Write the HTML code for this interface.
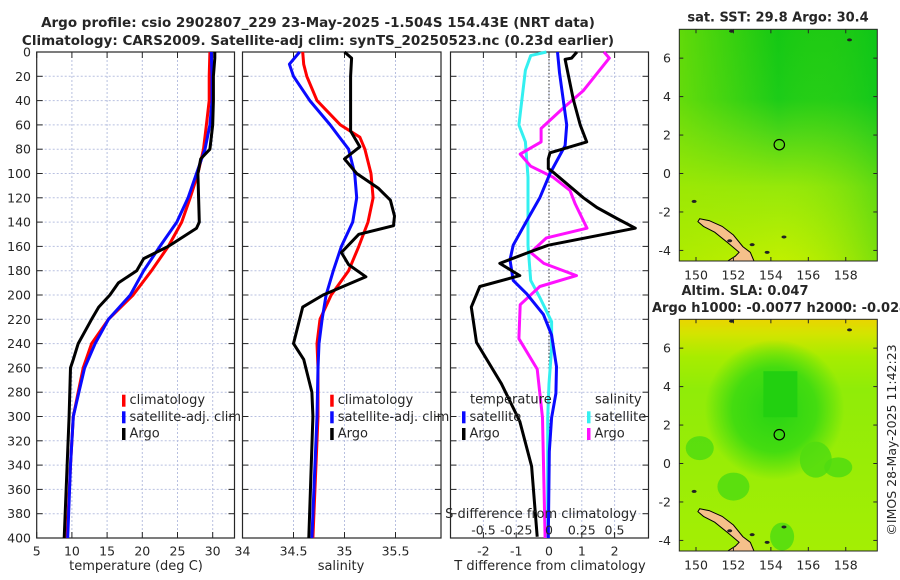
<!DOCTYPE html>
<html><head><meta charset="utf-8"><style>
html,body{margin:0;padding:0;background:#fff;}
svg{display:block;font-family:"DejaVu Sans","Liberation Sans",sans-serif;}
</style></head><body>
<svg id="fig" width="900" height="580" viewBox="0 0 900 580" xmlns="http://www.w3.org/2000/svg">
<defs>
<linearGradient id="sstg" x1="0" y1="0" x2="0" y2="1">
<stop offset="0" stop-color="#14c814"/><stop offset="0.3" stop-color="#1ccc18"/><stop offset="0.45" stop-color="#4cd618"/><stop offset="0.68" stop-color="#96e80a"/><stop offset="1" stop-color="#c0f000"/>
</linearGradient>
<linearGradient id="sstx" x1="0" y1="0" x2="1" y2="0">
<stop offset="0" stop-color="#a0e800" stop-opacity="0.55"/><stop offset="0.5" stop-color="#a0e800" stop-opacity="0"/><stop offset="1" stop-color="#00c020" stop-opacity="0.35"/>
</linearGradient>
<linearGradient id="slag" x1="0" y1="0" x2="0" y2="1">
<stop offset="0" stop-color="#ead400"/><stop offset="0.06" stop-color="#d4e400"/><stop offset="0.16" stop-color="#a8ec00"/><stop offset="0.3" stop-color="#90ec08"/><stop offset="1" stop-color="#a4ee04"/>
</linearGradient>
<radialGradient id="slab" cx="0.5" cy="0.5" r="0.5">
<stop offset="0" stop-color="#28d414"/><stop offset="0.6" stop-color="#44dc10"/><stop offset="1" stop-color="#44dc10" stop-opacity="0"/>
</radialGradient>
</defs>
<g id="root"></g>
</svg>
<script>
// ---------- data ----------
const yTicks = [0,20,40,60,80,100,120,140,160,180,200,220,240,260,280,300,320,340,360,380,400];
const tTicks = [5,10,15,20,25,30];
const sTicks = [34,34.5,35,35.5];
const dTicks = [-2,-1,0,1,2];
const sdTicks = [-0.5,-0.25,0,0.25,0.5];
const sdTickLabels = ["-0.5","-0.25","0","0.25","0.5"];

const depthsClim = [0,20,40,60,80,100,120,140,160,180,200,220,240,260,280,300,340,400];
const tempClim = [29.6,29.5,29.5,29.1,28.7,27.9,26.8,25.6,23.7,21.3,18.7,15.2,12.8,11.6,10.9,10.2,9.8,9.3];
const tempSat  = [29.8,29.9,29.9,29.6,28.9,27.7,26.5,24.9,22.5,20.2,18.3,15.2,13.3,11.8,11.0,10.2,9.8,9.4];
const depthsTArgo = [0,5,20,40,60,80,88,100,120,140,145,160,170,180,190,200,210,220,240,253,260,300,400];
const tempArgo = [30.3,30.3,30.1,30.1,30.0,29.6,28.3,27.9,28.0,28.1,27.7,23.7,20.2,19.2,16.6,15.4,13.8,12.8,10.9,10.2,9.8,9.6,8.9];

const depthsSal = [0,10,20,40,60,70,80,100,120,140,160,180,200,220,240,260,300,400];
const salClim = [34.59,34.60,34.63,34.73,34.96,35.15,35.2,35.26,35.28,35.23,35.14,35.04,34.87,34.76,34.73,34.74,34.74,34.69];
const salSat  = [34.56,34.46,34.50,34.66,34.86,34.95,35.04,35.10,35.12,35.08,34.97,34.89,34.82,34.78,34.75,34.74,34.73,34.68];
const depthsSArgo = [0,5,20,40,60,65,78,88,100,112,122,135,143,150,165,175,185,200,210,240,253,280,300,400];
const salArgo = [35.0,35.07,35.06,35.06,35.06,35.06,35.15,35.0,35.12,35.33,35.45,35.49,35.48,35.14,34.97,35.04,35.21,34.79,34.59,34.50,34.6,34.68,34.69,34.65];

const depthsDT = [0,5,6,39,60,74,83,88,96,99,120,128,137,145,159,165,174,184,193,210,239,273,304,341,399];
const dTArgo = [0.85,0.69,0.49,0.74,0.95,1.15,0.03,-0.02,-0.02,0.13,1.05,1.46,2.07,2.63,-0.02,-0.63,-1.5,-0.89,-2.11,-2.37,-2.21,-1.45,-0.89,-0.53,-0.36];
const depthsDTs = [0,17,60,77,100,120,139,159,171,188,199,216,233,259,281,301,329,400];
const dTSat = [0.26,0.32,0.54,0.49,0.03,-0.28,-0.68,-1.09,-1.19,-1.09,-0.68,-0.17,0.08,0.23,0.21,0.08,0.01,-0.02];
const depthsDSs = [0,3,15,60,74,103,131,159,188,202,222,244,273,301,400];
const dSSat = [-0.02,-0.14,-0.18,-0.23,-0.18,-0.16,-0.16,-0.16,-0.14,-0.07,0.02,0.02,0.0,-0.01,-0.01];
const depthsDSa = [0,5,32,46,63,74,84,94,103,114,125,145,153,165,174,184,193,208,236,261,301,400];
const dSArgo = [0.42,0.46,0.26,0.11,-0.06,-0.06,-0.22,-0.14,0.03,0.16,0.20,0.29,-0.02,-0.14,-0.04,0.21,-0.07,-0.22,-0.23,-0.09,-0.05,-0.03];

const lonTicks = [150,152,154,156,158];
const latTicks = [6,4,2,0,-2,-4];
const argoLon = 154.45, argoLat = 1.5;

// ---------- helpers ----------
const NS = "http://www.w3.org/2000/svg";
const root = document.getElementById('root');
function mk(tag, attrs, parent){ const e=document.createElementNS(NS,tag); for(const k in attrs) e.setAttribute(k,attrs[k]); (parent||root).appendChild(e); return e; }
function txt(x,y,s,size,anchor,weight,parent){ const t=mk('text',{x:x,y:y,'font-size':size,'text-anchor':anchor||'middle','fill':'#262626','dominant-baseline':'central'},parent); if(weight) t.setAttribute('font-weight',weight); t.textContent=s; return t; }

const Y0=52, Y1=538;
const yD = d => Y0 + d*(Y1-Y0)/400;
const P1={x0:36.7,x1:234.5}, xT = v => 36.7 + (v-5)*7.04;
const P2={x0:242.5,x1:441}, xS = v => 242.5 + (v-34)*102;
const P3={x0:450.5,x1:648.5}, xDT = v => 549 + v*32.8, xDS = v => 549 + v*131;

function panel(P, name, xt, xf, labels){
  const g = mk('g',{});
  
  
  yTicks.forEach(d=>{ const l=mk('line',{x1:P.x0,x2:P.x1,y1:yD(d),y2:yD(d),stroke:'#b8c0e0','stroke-width':1,'stroke-dasharray':'2,2'},g);
     
    mk('line',{x1:P.x0,x2:P.x0+6,y1:yD(d),y2:yD(d),stroke:'#262626'},g);
    mk('line',{x1:P.x1-6,x2:P.x1,y1:yD(d),y2:yD(d),stroke:'#262626'},g);
  });
  xt.forEach((v,i)=>{ const x=xf(v); if(x>P.x0+1 && x<P.x1-1){
    const l=mk('line',{x1:x,x2:x,y1:Y0,y2:Y1,stroke:'#b8c0e0','stroke-width':1,'stroke-dasharray':'2,2'},g);
     }
    mk('line',{x1:x,x2:x,y1:Y1-6,y2:Y1,stroke:'#262626'},g);
    mk('line',{x1:x,x2:x,y1:Y0,y2:Y0+6,stroke:'#262626'},g);
    if(labels){ const t=txt(x,551,labels[i],12.5,'middle',null,g);   }
  });
  const b=mk('rect',{x:P.x0,y:Y0,width:P.x1-P.x0,height:Y1-Y0,fill:'none',stroke:'#262626','stroke-width':1.2},g);
   
  return g;
}
function line(g, depths, vals, xf, color, name){
  const pts = depths.map((d,i)=> xf(vals[i]).toFixed(1)+','+yD(d).toFixed(1)).join(' ');
  const p = mk('polyline',{points:pts,fill:'none',stroke:color,'stroke-width':3,'stroke-linejoin':'round'},g);
  
  
  return p;
}
function legendItem(g, x, y, color, label, name){
  const r=mk('rect',{x:x-1.5,y:y-6,width:3.5,height:12,fill:color},g);
  
  
  const t=txt(x+6,y,label,13,'start',null,g);
  
  
}

// ---------- title ----------
const t1 = txt(318,23,'Argo profile: csio 2902807_229 23-May-2025 -1.504S 154.43E (NRT data)',13.5,'middle','bold');


const t2 = txt(318,41,'Climatology: CARS2009. Satellite-adj clim: synTS_20250523.nc (0.23d earlier)',13.5,'middle','bold');



// ---------- panel 1 ----------
const g1 = panel(P1,'temperature-panel',tTicks,xT,tTicks.map(String));
yTicks.forEach(d=>{ const t=txt(31,yD(d),String(d),12.5,'end',null,g1);   });
line(g1,depthsClim,tempClim,xT,'#ff0000','temp-climatology-line');
line(g1,depthsClim,tempSat,xT,'#0a0aff','temp-satellite-line');
line(g1,depthsTArgo,tempArgo,xT,'#000000','temp-argo-line');
legendItem(g1,123.5,400.7,'#ff0000','climatology','legend-climatology');
legendItem(g1,123.5,417.3,'#0a0aff','satellite-adj. clim','legend-satellite-adj');
legendItem(g1,123.5,434,'#000000','Argo','legend-argo');
const xl1=txt(136,566.5,'temperature (deg C)',13,'middle',null,g1);  

// ---------- panel 2 ----------
const g2 = panel(P2,'salinity-panel',sTicks,xS,sTicks.map(String));
line(g2,depthsSal,salClim,xS,'#ff0000','sal-climatology-line');
line(g2,depthsSal,salSat,xS,'#0a0aff','sal-satellite-line');
line(g2,depthsSArgo,salArgo,xS,'#000000','sal-argo-line');
legendItem(g2,331.7,400.7,'#ff0000','climatology','legend-climatology-sal');
legendItem(g2,331.7,417.3,'#0a0aff','satellite-adj. clim','legend-satellite-adj-sal');
legendItem(g2,331.7,434,'#000000','Argo','legend-argo-sal');
const xl2=txt(341,566.5,'salinity',13,'middle',null,g2);  

// ---------- panel 3 ----------
const g3 = panel(P3,'difference-panel',dTicks,xDT,dTicks.map(String));
const zl=mk('line',{x1:xDT(0),x2:xDT(0),y1:Y0,y2:Y1,stroke:'#333','stroke-width':1,'stroke-dasharray':'1.5,2'},g3);
 
line(g3,depthsDSs,dSSat,xDS,'#33f0f0','sal-diff-satellite-line');
line(g3,depthsDSa,dSArgo,xDS,'#ff10ff','sal-diff-argo-line');
line(g3,depthsDTs,dTSat,xDT,'#0a0aff','temp-diff-satellite-line');
line(g3,depthsDT,dTArgo,xDT,'#000000','temp-diff-argo-line');
const lh1=txt(470,400,'temperature',13,'start',null,g3);  
const lh2=txt(595,400,'salinity',13,'start',null,g3);  
legendItem(g3,463.5,417.3,'#0a0aff','satellite','legend-temp-satellite');
legendItem(g3,463.5,434,'#000000','Argo','legend-temp-argo');
legendItem(g3,588.5,417.3,'#33f0f0','satellite','legend-sal-satellite');
legendItem(g3,588.5,434,'#ff10ff','Argo','legend-sal-argo');
const sdt=txt(541,514.5,'S difference from climatology',13,'middle',null,g3);  
sdTicks.forEach((v,i)=>{ const t=txt(xDS(v),530,sdTickLabels[i],12.5,'middle',null,g3);   });
const xl3=txt(550,566.5,'T difference from climatology',13,'middle',null,g3);  

// ---------- maps ----------
function mapPanel(name, top, bottom, fill, extra){
  const M={x0:679.3,x1:877.3,y0:top,y1:bottom};
  const lon = v => 696 + (v-150)*18.72;
  const latToY = v => (top+ (bottom-top)*(7.5-v)/12.05);
  const g=mk('g',{});
  
  
  const bg=mk('rect',{x:M.x0,y:M.y0,width:M.x1-M.x0,height:M.y1-M.y0,fill:fill},g);
   
  extra(g,lon,latToY,M);
  const land = [[150.2,-2.35],[150.7,-2.45],[151.4,-2.75],[152.0,-3.2],[152.5,-3.8],[152.9,-4.1],[153.1,-4.55],[151.7,-4.55],[152.1,-4.3],[152.3,-4.1],[151.7,-3.6],[151.0,-3.05],[150.4,-2.75],[150.1,-2.5]];
  const lp=mk('polygon',{points:land.map(p=>lon(p[0]).toFixed(1)+','+latToY(p[1]).toFixed(1)).join(' '),fill:'#f5c08a',stroke:'#000','stroke-width':1},g);
   
  [[149.9,-1.45],[151.8,-3.5],[153.0,-3.7],[154.7,-3.3],[153.8,-4.1],[158.2,6.95],[151.9,7.4]].forEach(p=>{
    const c=mk('ellipse',{cx:lon(p[0]),cy:latToY(p[1]),rx:2.5,ry:1.5,fill:'#222'},g);
     
  });
  const dot=mk('circle',{cx:lon(argoLon),cy:latToY(argoLat),r:5.2,fill:'none',stroke:'#000','stroke-width':1.2},g);
   
  latTicks.forEach(v=>{ const y=latToY(v);
    mk('line',{x1:M.x1-4,x2:M.x1,y1:y,y2:y,stroke:'#262626'},g);
    mk('line',{x1:M.x0,x2:M.x0+4,y1:y,y2:y,stroke:'#262626'},g);
    const t=txt(671,y,String(v),12.5,'end',null,g);   });
  lonTicks.forEach(v=>{ const x=lon(v);
    mk('line',{x1:x,x2:x,y1:M.y1-4,y2:M.y1,stroke:'#262626'},g);
    mk('line',{x1:x,x2:x,y1:M.y0,y2:M.y0+4,stroke:'#262626'},g);
    const t=txt(x,bottom+14,String(v),12.5,'middle',null,g);   });
  const b=mk('rect',{x:M.x0,y:M.y0,width:M.x1-M.x0,height:M.y1-M.y0,fill:'none',stroke:'#262626','stroke-width':1},g);
   
  return g;
}
const m1 = mapPanel('sst-map',29.3,261,'url(#sstg)',(g,lon,lat,M)=>{
  const r=mk('rect',{x:M.x0,y:M.y0,width:M.x1-M.x0,height:M.y1-M.y0,fill:'url(#sstx)'},g);
   
});
const mt1=txt(778,18,'sat. SST: 29.8 Argo: 30.4',13,'middle','bold');
 
const m2 = mapPanel('sla-map',319.3,551,'url(#slag)',(g,lon,lat,M)=>{
  const e=mk('ellipse',{cx:lon(154.2),cy:lat(2.8),rx:70,ry:70,fill:'url(#slab)'},g);
   
  const e2=mk('rect',{x:lon(153.6),y:lat(4.8),width:34,height:46,fill:'#22d010'},g);
   
  [[150.2,0.8,14,12],[156.4,0.2,16,18],[157.6,-0.2,14,10],[152.0,-1.2,16,14],[154.6,-3.8,12,14]].forEach(p=>{
    const b=mk('ellipse',{cx:lon(p[0]),cy:lat(p[1]),rx:p[2],ry:p[3],fill:'#50dc10',opacity:0.85},g);
     
  });
});
const mt2=txt(745,291.5,'Altim. SLA: 0.047',13,'middle','bold');
 
const mt3=txt(652,308.5,'Argo h1000: -0.0077 h2000: -0.024',13,'start','bold');
 
const cp=txt(0,0,'\u00a9IMOS 28-May-2025 11:42:23',12.5,'middle');
cp.setAttribute('transform','translate(891.5,440) rotate(-90)');


</script>
</body></html>
